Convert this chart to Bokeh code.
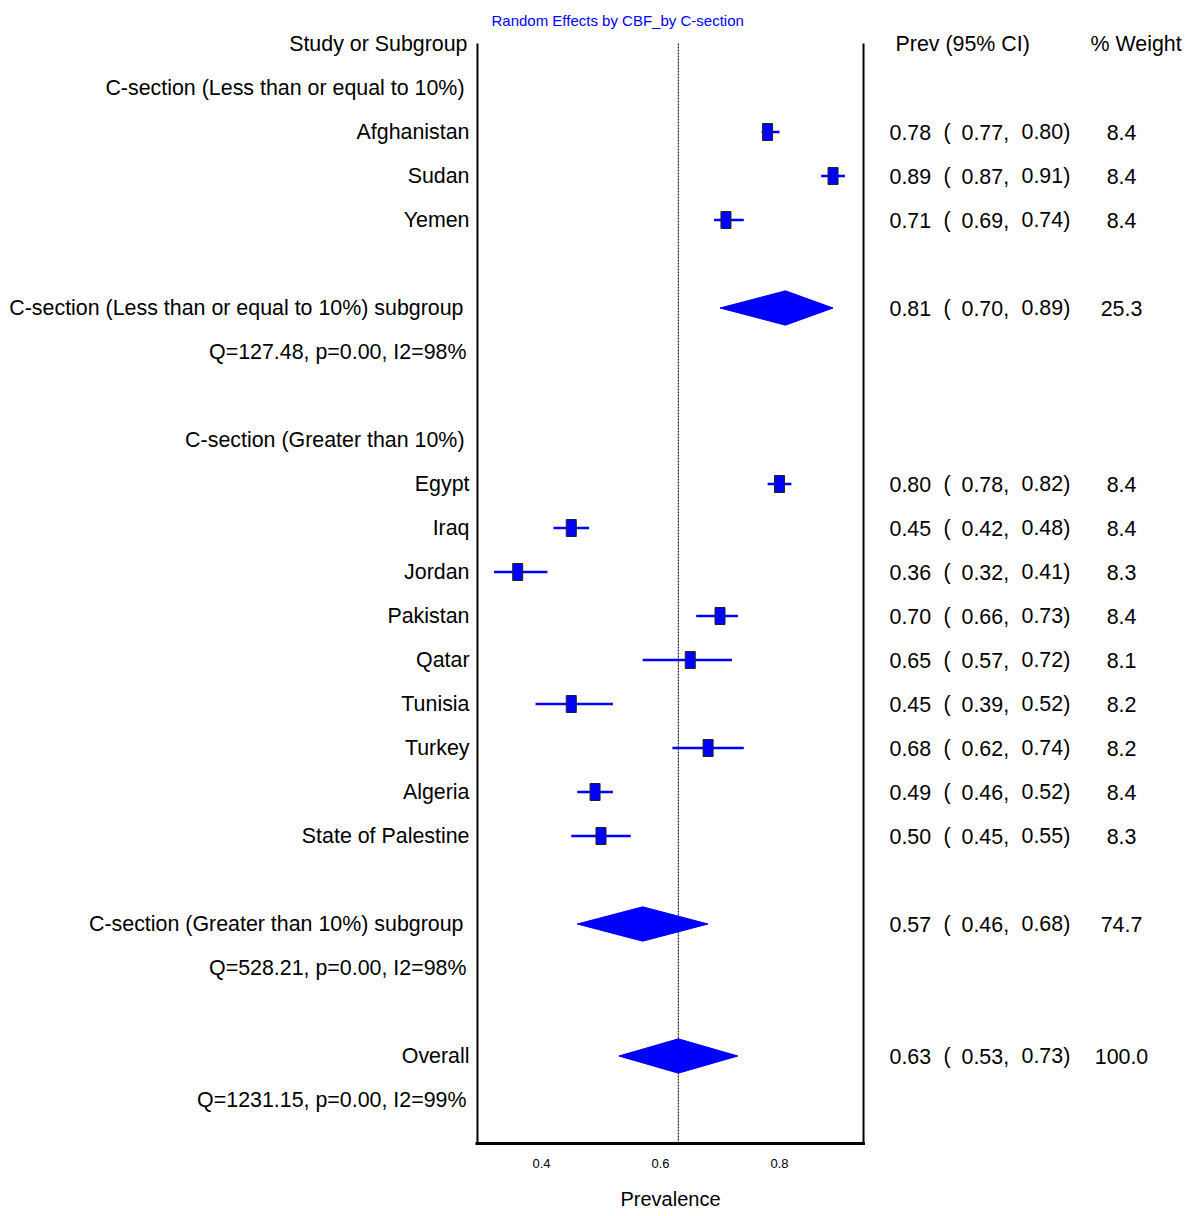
from bokeh.plotting import figure
from bokeh.layouts import row
from bokeh.models import Range1d, FixedTicker, ColumnDataSource
from bokeh.core.properties import value
from bokeh.embed import file_html
from bokeh.resources import INLINE

# ---------------- data ----------------
studies = ["Afghanistan", "Sudan", "Yemen",
           "Egypt", "Iraq", "Jordan", "Pakistan", "Qatar", "Tunisia", "Turkey",
           "Algeria", "State of Palestine"]
study_rows = [2, 3, 4, 10, 11, 12, 13, 14, 15, 16, 17, 18]
study_est = [0.78, 0.89, 0.71, 0.80, 0.45, 0.36, 0.70, 0.65, 0.45, 0.68, 0.49, 0.50]
study_lo = [0.77, 0.87, 0.69, 0.78, 0.42, 0.32, 0.66, 0.57, 0.39, 0.62, 0.46, 0.45]
study_hi = [0.80, 0.91, 0.74, 0.82, 0.48, 0.41, 0.73, 0.72, 0.52, 0.74, 0.52, 0.55]
study_wt = [8.4, 8.4, 8.4, 8.4, 8.4, 8.3, 8.4, 8.1, 8.2, 8.2, 8.4, 8.3]

pooled_labels = ["C-section (Less than or equal to 10%) subgroup",
                 "C-section (Greater than 10%) subgroup", "Overall"]
pooled_rows = [6, 20, 23]
pooled_est = [0.81, 0.57, 0.63]
pooled_lo = [0.70, 0.46, 0.53]
pooled_hi = [0.89, 0.68, 0.73]
pooled_wt = [25.3, 74.7, 100.0]
pooled_het = ["Q=127.48, p=0.00, I2=98%", "Q=528.21, p=0.00, I2=98%",
              "Q=1231.15, p=0.00, I2=99%"]

group_labels = ["C-section (Less than or equal to 10%)", "C-section (Greater than 10%)"]
group_rows = [1, 9]

header_left = "Study or Subgroup"
header_ci = "Prev (95% CI)"
header_wt = "% Weight"
title_text = "Random Effects by CBF_by C-section"
x_label = "Prevalence"
x_ticks = [0.4, 0.6, 0.8]

# ---------------- layout constants ----------------
W, H = 1194, 1216
LEFT_W, MID_W = 475, 390
RIGHT_W = W - LEFT_W - MID_W
RIGHT_X0 = LEFT_W + MID_W
Y0, DY = 43.5, 44.0            # pixel y of row 0, pixel spacing of rows
FR_TOP, FR_BOT = 30, 1143      # frame of all panels
SPINE_TOP = 43                 # pixel where the vertical spines start
PX = 595.0                     # pixels per prevalence unit
XMIN, XMAX = 0.2924, 0.9412    # spine positions
FONT = "Liberation Sans"
FS = "21.4px"
BLUE = "#0000FF"


def yv(k):
    return -k


yr = Range1d(-(FR_BOT - Y0) / DY, (Y0 - FR_TOP) / DY)
y_spine_top = (Y0 - SPINE_TOP) / DY


def blank_fig(width, xr):
    f = figure(width=width, height=H, x_range=xr, y_range=yr,
               output_backend="svg", toolbar_location=None,
               min_border_left=0, min_border_right=0,
               min_border_top=FR_TOP, min_border_bottom=H - FR_BOT)
    f.axis.visible = False
    f.grid.visible = False
    f.outline_line_color = None
    return f


# ---------------- left text panel ----------------
left = blank_fig(LEFT_W, Range1d(0, LEFT_W))


def ltext(xs, ys, texts):
    left.text(x=xs, y=ys, text=texts, text_align="right", text_baseline="middle",
              text_font=value(FONT), text_font_size=FS, text_color="black")


ltext([467], [yv(0)], [header_left])
ltext([464] * len(group_labels), [yv(r) for r in group_rows], group_labels)
ltext([469] * len(studies), [yv(r) for r in study_rows], studies)
ltext([463, 463, 469], [yv(r) for r in pooled_rows], pooled_labels)
ltext([466] * 3, [yv(r + 1) for r in pooled_rows], pooled_het)

# ---------------- forest panel ----------------
pad = (MID_W - (XMAX - XMIN) * PX) / 2 / PX
mid = figure(width=MID_W, height=H, x_range=Range1d(XMIN - pad, XMAX + pad),
             y_range=yr, output_backend="svg", toolbar_location=None,
             min_border_left=0, min_border_right=0,
             min_border_top=FR_TOP, min_border_bottom=H - FR_BOT,
             y_axis_location=None)
mid.grid.visible = False
mid.outline_line_color = None
mid.title.text = title_text
mid.title.text_color = BLUE
mid.title.text_font = FONT
mid.title.text_font_size = "15px"
mid.title.text_font_style = "normal"
mid.title.offset = 16
mid.title.standoff = 3

ax = mid.xaxis[0]
ax.ticker = FixedTicker(ticks=x_ticks)
ax.major_tick_out = 0
ax.major_tick_in = 0
ax.minor_tick_out = 0
ax.minor_tick_in = 0
ax.axis_line_width = 3
ax.axis_line_color = "black"
ax.major_label_text_font = FONT
ax.major_label_text_font_size = "13px"
ax.major_label_text_color = "black"
ax.major_label_standoff = 15
ax.axis_label = x_label
ax.axis_label_text_font = FONT
ax.axis_label_text_font_size = "20px"
ax.axis_label_text_font_style = "normal"
ax.axis_label_text_color = "black"
ax.axis_label_standoff = 17

ybot = yr.start
# frame spines and the vertical reference line at the overall estimate
mid.segment(x0=[XMIN, XMAX], y0=[y_spine_top] * 2, x1=[XMIN, XMAX], y1=[ybot] * 2,
            line_color="black", line_width=2)
mid.segment(x0=[pooled_est[-1]], y0=[y_spine_top], x1=[pooled_est[-1]], y1=[ybot],
            line_color="#222222", line_width=1.2, line_dash="2 1")

src = ColumnDataSource(dict(y=[yv(r) for r in study_rows], est=study_est,
                            lo=study_lo, hi=study_hi))
mid.segment(x0="lo", y0="y", x1="hi", y1="y", source=src, line_color=BLUE, line_width=2.5)
mid.rect(x="est", y="y", width=10, height=17, width_units="screen", height_units="screen",
         source=src, fill_color=BLUE, line_color="#222222", line_width=1)

HH = 0.39
dxs = [[lo, e, hi, e] for lo, e, hi in zip(pooled_lo, pooled_est, pooled_hi)]
dys = [[yv(r), yv(r) + HH, yv(r), yv(r) - HH] for r in pooled_rows]
mid.patches(xs=dxs, ys=dys, fill_color=BLUE, line_color=BLUE, line_width=1)

# ---------------- right text panel ----------------
right = blank_fig(RIGHT_W, Range1d(0, RIGHT_W))


def rtext(xs, ys, texts, align="left"):
    right.text(x=xs, y=ys, text=texts, text_align=align, text_baseline="middle",
               text_font=value(FONT), text_font_size=FS, text_color="black")


rtext([895 - RIGHT_X0], [yv(0)], [header_ci])
rtext([1090 - RIGHT_X0], [yv(0)], [header_wt])
all_rows = study_rows + pooled_rows
all_est = study_est + pooled_est
all_lo = study_lo + pooled_lo
all_hi = study_hi + pooled_hi
all_wt = study_wt + pooled_wt
ys = [yv(r) for r in all_rows]
n = len(all_rows)
rtext([889 - RIGHT_X0] * n, ys, ["%.2f" % v for v in all_est])
rtext([943 - RIGHT_X0] * n, ys, ["("] * n)
rtext([961 - RIGHT_X0] * n, ys, ["%.2f," % v for v in all_lo])
rtext([1021 - RIGHT_X0] * n, ys, ["%.2f)" % v for v in all_hi])
rtext([1121 - RIGHT_X0] * n, ys, ["%.1f" % v for v in all_wt], align="center")

layout = row(left, mid, right, spacing=0)
open("out.html", "w").write(file_html(layout, INLINE))
